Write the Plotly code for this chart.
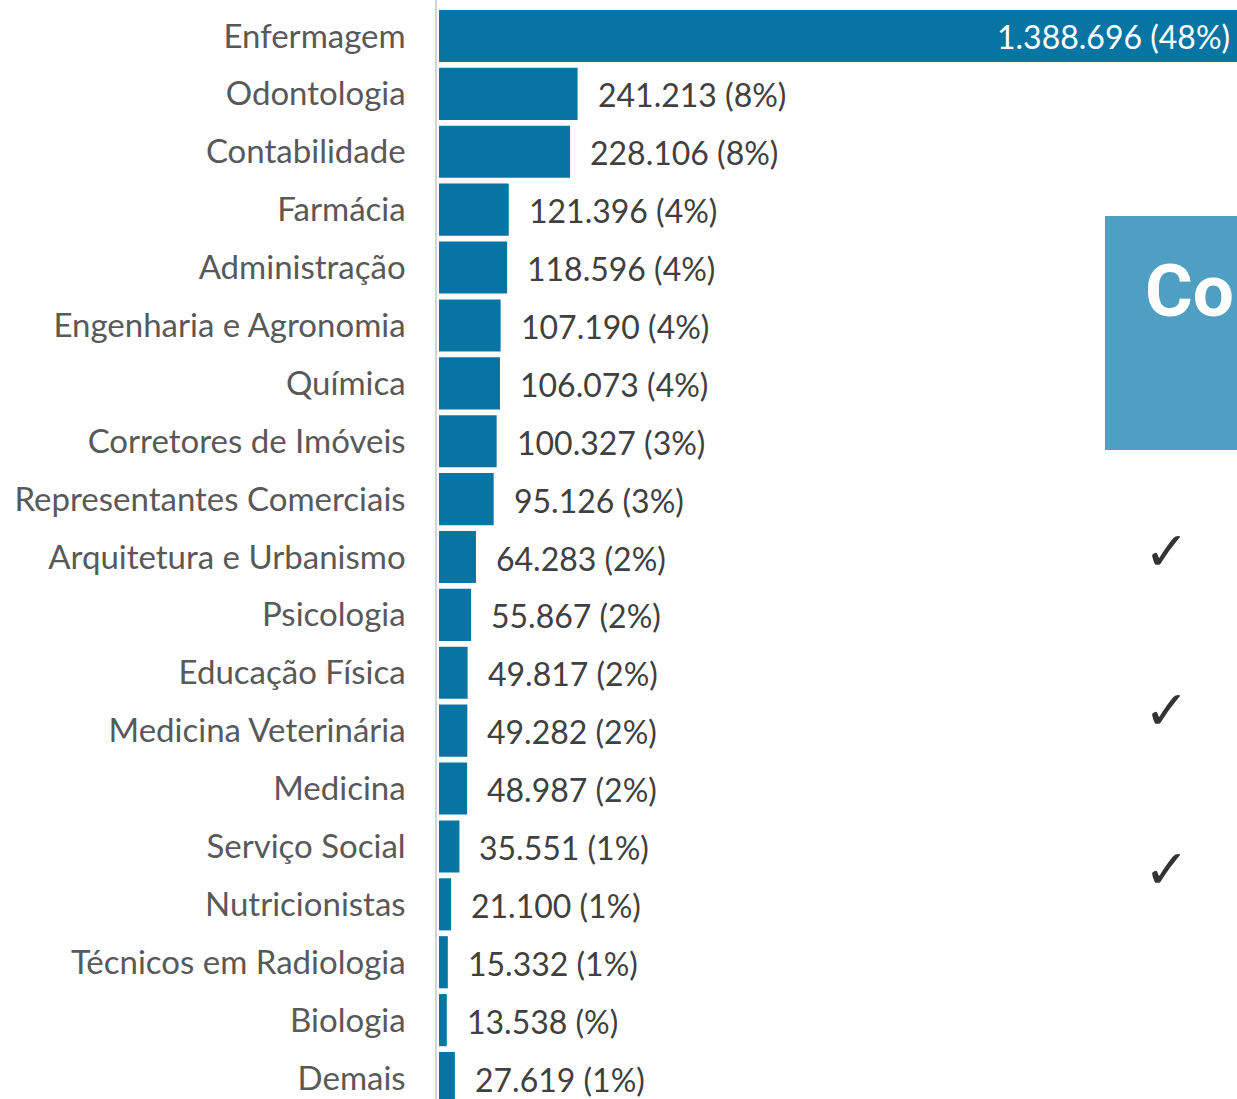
import plotly.graph_objects as go

# conselhos profissionais - registros
categorias = ["Enfermagem", "Odontologia", "Contabilidade", "Farmácia", "Administração",
              "Engenharia e Agronomia", "Química", "Corretores de Imóveis",
              "Representantes Comerciais", "Arquitetura e Urbanismo", "Psicologia",
              "Educação Física", "Medicina Veterinária", "Medicina", "Serviço Social",
              "Nutricionistas", "Técnicos em Radiologia", "Biologia", "Demais"]
registros = [1388696, 241213, 228106, 121396, 118596, 107190, 106073, 100327, 95126,
             64283, 55867, 49817, 49282, 48987, 35551, 21100, 15332, 13538, 27619]
percentuais = ["48%", "8%", "8%", "4%", "4%", "4%", "4%", "3%", "3%", "2%", "2%",
               "2%", "2%", "2%", "1%", "1%", "1%", "%", "1%"]
titulo_caixa = "Col"
marcas = ["✓", "✓", "✓"]

W, H = 1237, 1099
L = 437  # left edge of plot area in px
PITCH = 57.9
BAR = "#0675a3"


def px_x(x):
    return (x - L) / (W - L)


def px_y(y):
    return 1 - y / H


rotulos = [f"{v:,}".replace(",", ".") + f" ({p})" for v, p in zip(registros, percentuais)]
pos = list(range(len(categorias)))

fig = go.Figure(go.Bar(
    x=registros, y=pos, orientation="h", width=0.9,
    marker=dict(color=BAR, line=dict(width=0)),
    hoverinfo="skip",
))

for i, (v, t) in enumerate(zip(registros, rotulos)):
    if i == 0:
        fig.add_annotation(x=v, y=i, text=t, showarrow=False, xanchor="right", xshift=-5,
                           yshift=-1, font=dict(color="white", size=32, family="Lato"))
    else:
        fig.add_annotation(x=v, y=i, text=t, showarrow=False, xanchor="left", xshift=18,
                           yshift=-1, font=dict(color="#404040", size=32, family="Lato"))

# caixa azul à direita
fig.add_shape(type="rect", xref="paper", yref="paper", x0=px_x(1105), x1=1.0,
              y0=px_y(450), y1=px_y(216), fillcolor="#4e9fc2", line=dict(width=0), layer="above")
fig.add_annotation(xref="paper", yref="paper", x=px_x(1143), y=px_y(291), text=f"<b>{titulo_caixa}</b>",
                   showarrow=False, xanchor="left", yanchor="middle",
                   font=dict(color="white", size=73, family="Liberation Sans Narrow, Roboto"))
for m, yc in zip(marcas, [551, 710, 869]):
    fig.add_annotation(xref="paper", yref="paper", x=px_x(1166), y=px_y(yc), text=f"<b>{m}</b>",
                       showarrow=False, xanchor="center", yanchor="middle",
                       font=dict(color="#333333", size=54, family="DejaVu Sans"))

fig.update_yaxes(
    tickvals=pos, ticktext=categorias, range=[18 + 21 / PITCH, -36 / PITCH],
    showline=True, linecolor="#d4d4d4", linewidth=1.5, showgrid=False, zeroline=False,
    ticks="", ticklabelstandoff=23, tickfont=dict(size=33, color="#595959", family="Lato"),
)
fig.update_xaxes(range=[-3500, 1388696], visible=False)

fig.update_layout(
    width=W, height=H, margin=dict(l=L, r=0, t=0, b=0),
    plot_bgcolor="white", paper_bgcolor="white", showlegend=False,
)

fig.write_html("out.html", config={"displayModeBar": False},
               post_script="document.body.style.margin = '0';")
